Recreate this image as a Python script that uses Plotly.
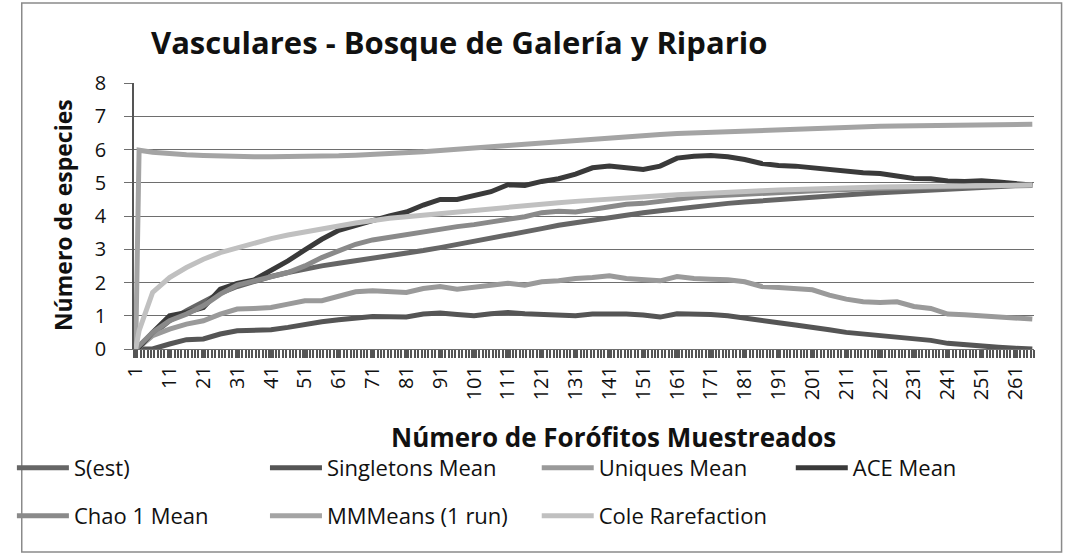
import plotly.graph_objects as go

# ---------------- data ----------------
samples = [1, 2, 6, 11, 16, 21, 26, 31, 36, 41, 46, 51, 56, 61, 66, 71, 76, 81, 86, 91,
           96, 101, 106, 111, 116, 121, 126, 131, 136, 141, 146, 151, 156, 161, 166, 171,
           176, 181, 186, 191, 196, 201, 206, 211, 216, 221, 226, 231, 236, 241, 246, 251,
           256, 261, 266]

s_est = [0.02, 0.1, 0.45, 0.85, 1.15, 1.42, 1.68, 1.88, 2.04, 2.18, 2.3, 2.41, 2.5, 2.58,
         2.65, 2.72, 2.8, 2.88, 2.96, 3.05, 3.14, 3.23, 3.32, 3.42, 3.52, 3.62, 3.72, 3.8,
         3.88, 3.96, 4.03, 4.1, 4.16, 4.22, 4.28, 4.33, 4.38, 4.42, 4.46, 4.5, 4.54, 4.57,
         4.6, 4.63, 4.67, 4.7, 4.73, 4.76, 4.79, 4.82, 4.85, 4.87, 4.89, 4.91, 4.92]

singletons = [0, 0, 0, 0.15, 0.28, 0.3, 0.45, 0.55, 0.55, 0.58, 0.65, 0.75, 0.82, 0.88,
              0.93, 0.98, 0.97, 0.96, 1.05, 1.08, 1.04, 1.0, 1.06, 1.1, 1.06, 1.04, 1.03,
              1.0, 1.05, 1.06, 1.05, 1.02, 0.96, 1.06, 1.06, 1.04, 1.0, 0.92, 0.85, 0.79,
              0.72, 0.66, 0.58, 0.5, 0.45, 0.41, 0.36, 0.33, 0.26, 0.17, 0.12, 0.1, 0.05,
              0.02, 0.0]

uniques = [0, 0.05, 0.4, 0.6, 0.75, 0.85, 1.05, 1.2, 1.22, 1.25, 1.35, 1.45, 1.45, 1.6,
           1.72, 1.75, 1.73, 1.7, 1.82, 1.88, 1.8, 1.85, 1.9, 1.98, 1.92, 2.02, 2.05, 2.12,
           2.15, 2.2, 2.12, 2.08, 2.05, 2.18, 2.12, 2.1, 2.08, 2.02, 1.88, 1.85, 1.82, 1.78,
           1.62, 1.5, 1.42, 1.4, 1.42, 1.28, 1.22, 1.05, 1.03, 1.0, 0.97, 0.93, 0.9]

ace = [0, 0.05, 0.5, 1.0, 1.1, 1.25, 1.8, 1.97, 2.08, 2.35, 2.65, 2.98, 3.3, 3.57, 3.7,
       3.86, 4.0, 4.12, 4.33, 4.5, 4.5, 4.63, 4.73, 4.94, 4.92, 5.04, 5.12, 5.26, 5.45,
       5.5, 5.45, 5.4, 5.5, 5.74, 5.8, 5.82, 5.78, 5.7, 5.58, 5.52, 5.5, 5.45, 5.38, 5.32,
       5.3, 5.28, 5.2, 5.13, 5.12, 5.05, 5.04, 5.06, 5.02, 4.97, 4.93]

chao1 = [0, 0.1, 0.5, 0.85, 1.05, 1.3, 1.65, 1.92, 2.05, 2.15, 2.3, 2.5, 2.75, 2.95, 3.15,
         3.28, 3.36, 3.45, 3.55, 3.62, 3.68, 3.74, 3.82, 3.9, 3.98, 4.1, 4.14, 4.12, 4.2,
         4.28, 4.35, 4.38, 4.45, 4.52, 4.56, 4.6, 4.63, 4.65, 4.68, 4.7, 4.74, 4.76, 4.78,
         4.8, 4.82, 4.83, 4.85, 4.86, 4.87, 4.88, 4.89, 4.9, 4.91, 4.92, 4.93]

mmmeans = [0, 5.98, 5.92, 5.87, 5.84, 5.82, 5.8, 5.79, 5.78, 5.78, 5.78, 5.79, 5.8, 5.81,
           5.83, 5.85, 5.87, 5.9, 5.93, 5.97, 6.0, 6.04, 6.08, 6.12, 6.16, 6.2, 6.24, 6.28,
           6.32, 6.36, 6.39, 6.42, 6.45, 6.48, 6.5, 6.53, 6.55, 6.57, 6.59, 6.61, 6.63,
           6.65, 6.66, 6.68, 6.69, 6.7, 6.71, 6.72, 6.73, 6.74, 6.74, 6.75, 6.75, 6.76, 6.76]

cole = [0, 0.55, 1.7, 2.15, 2.45, 2.7, 2.9, 3.05, 3.2, 3.32, 3.43, 3.53, 3.62, 3.7, 3.79,
        3.87, 3.93, 3.98, 4.03, 4.08, 4.13, 4.18, 4.23, 4.28, 4.32, 4.36, 4.4, 4.44, 4.48,
        4.52, 4.55, 4.58, 4.61, 4.64, 4.67, 4.7, 4.72, 4.74, 4.76, 4.78, 4.8, 4.82, 4.84,
        4.85, 4.86, 4.87, 4.88, 4.89, 4.9, 4.9, 4.91, 4.92, 4.92, 4.93, 4.93]

n_categories = 266
x_tick_values = list(range(1, 262, 10))      # labelled categories: 1, 11, ..., 261

series_names = ["S(est)", "Singletons Mean", "Uniques Mean", "ACE Mean",
                "Chao 1 Mean", "MMMeans (1 run)", "Cole Rarefaction"]

# ---------------- styles ----------------
series_values = [s_est, singletons, uniques, ace, chao1, mmmeans, cole]
colors = ["#666666", "#555555", "#9a9a9a", "#3a3a3a", "#8a8a8a", "#a4a4a4", "#c0c0c0"]
# legend slot (pixel position of line sample start, row centre)
legend_pos = [(15, 468), (272, 468), (548, 468), (806, 468),
              (15, 516), (272, 516), (548, 516)]

FONT = "Open Sans"

W, H = 1067, 557
L, R, T, B = 120, 33, 83, 208
PW, PH = W - L - R, H - T - B


def px(xp):
    return (xp - L) / PW


def py(yp):
    return (H - B - yp) / PH


fig = go.Figure()
legend_layout = {}
for k, (name, vals, col, pos) in enumerate(zip(series_names, series_values, colors, legend_pos)):
    key = "legend" if k == 0 else f"legend{k + 1}"
    fig.add_trace(go.Scatter(
        x=samples, y=vals, mode="lines", name=name, legend=key,
        line=dict(color=col, width=5),
    ))
    legend_layout[key] = dict(
        x=px(pos[0] - 19), y=py(pos[1]), xanchor="left", yanchor="middle",
        itemwidth=52, font=dict(size=22, family=FONT, color="#111111"),
        bgcolor="rgba(0,0,0,0)", borderwidth=0,
    )

grid_col = "#6e6e6e"
tick_col = "#555555"

fig.update_layout(
    width=W, height=H, autosize=False,
    margin=dict(l=L, r=R, t=T, b=B),
    paper_bgcolor="white", plot_bgcolor="white",
    font=dict(family=FONT, color="#111111", size=20),
    xaxis=dict(
        range=[0.5, n_categories + 0.5], tickmode="linear",
        tick0=x_tick_values[0], dtick=x_tick_values[1] - x_tick_values[0],
        tickangle=-90, ticks="outside", ticklen=8,
        tickcolor=tick_col, tickwidth=1.5, showline=True, linecolor=grid_col,
        tickfont=dict(size=20, family=FONT),
        minor=dict(ticks="outside", tick0=0.5, dtick=1, ticklen=8,
                   tickcolor=tick_col, tickwidth=1.5),
    ),
    yaxis=dict(
        range=[0, 8], dtick=1, showgrid=True, gridcolor=grid_col, gridwidth=1,
        ticks="outside", ticklen=8, tickcolor=grid_col, zeroline=False,
        showline=True, linecolor="#555555", linewidth=1.5,
        ticklabelstandoff=14, tickfont=dict(size=20, family=FONT),
    ),
    showlegend=True,
    **legend_layout,
)
fig.update_xaxes(showgrid=False, zeroline=False)

fig.add_annotation(text="<b>Vasculares - Bosque de Galería y Ripario</b>",
                   xref="paper", yref="paper", x=px(135), y=py(42),
                   xanchor="left", yanchor="middle", showarrow=False,
                   font=dict(size=31, family=FONT, color="#111111"))
fig.add_annotation(text="<b>Número de especies</b>", textangle=-90,
                   xref="paper", yref="paper", x=px(48), y=py(215),
                   xanchor="center", yanchor="middle", showarrow=False,
                   font=dict(size=23, family=FONT, color="#111111"))
fig.add_annotation(text="<b>Número de Forófitos Muestreados</b>",
                   xref="paper", yref="paper", x=px(607), y=py(437),
                   xanchor="center", yanchor="middle", showarrow=False,
                   font=dict(size=26, family=FONT, color="#111111"))

fig.add_shape(type="rect", xref="paper", yref="paper",
              x0=px(6), x1=px(1062), y0=py(552), y1=py(3),
              line=dict(color="#8a8a8a", width=1.5), layer="below")

fig.write_html("out.html", config={"displayModeBar": False},
               post_script="document.body.style.margin='0';")
